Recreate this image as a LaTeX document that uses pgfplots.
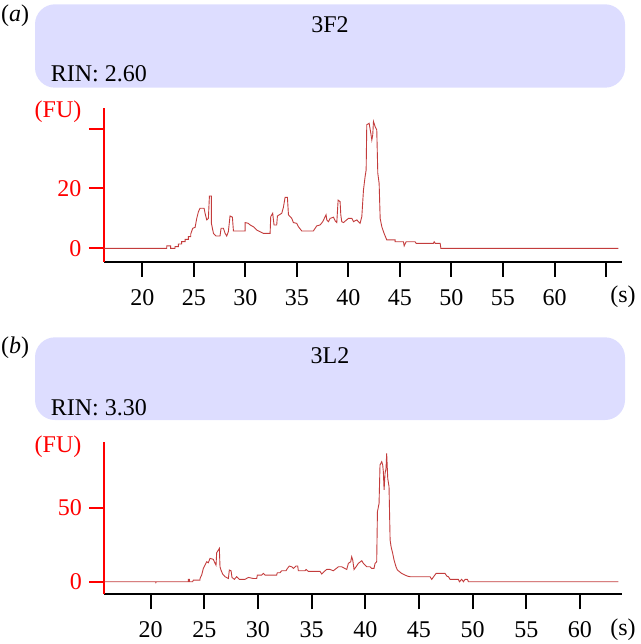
\documentclass[border=0pt]{standalone}
\usepackage{pgfplots}
\pgfplotsset{compat=1.18}
\usepackage{fontspec}
\setmainfont{Liberation Serif}
\definecolor{boxfill}{RGB}{221,221,255}
\definecolor{trace}{RGB}{195,60,60}
\newcommand{\bigf}{\fontsize{24bp}{28bp}\selectfont}
\pgfplotsset{
  elecstyle/.style={
    scale only axis,
    axis x line=bottom, axis y line=left,
    separate axis lines,
    x axis line style={-, black, line width=2bp},
    y axis line style={-, red, line width=2bp},
    tick align=outside,
    major tick length=15bp,
    xtick style={black, line width=2bp},
    ytick style={red, line width=2bp},
    /pgf/number format/assume math mode=true,
    tick label style={font=\bigf},
    xticklabel style={anchor=north, text height=16bp, text depth=0bp, yshift=-9bp},
    yticklabel style={red, xshift=-4bp},
    minor tick num=0,
  }
}
\begin{document}
\begin{tikzpicture}[x=1bp,y=1bp]
\useasboundingbox (0,0) rectangle (641,-644);
% ---- panel (a)
\fill[boxfill, rounded corners=20bp] (35,-4.3) rectangle (625,-87.7);
\node[anchor=center, font=\bigf] at (15,-16) {(\textit{a})};
\node[anchor=center, font=\fontsize{24bp}{28bp}\selectfont] at (330,-25) {3F2};
\node[anchor=base west, font=\bigf, inner sep=0pt] at (50.7,-81.7) {RIN: 2.60};
\begin{axis}[elecstyle,
  at={(104bp,-261.7bp)}, anchor=south west,
  width=518bp, height=153.7bp,
  xmin=16.28, xmax=66.55, ymin=-4.48, ymax=46.9,
  xtick={20,25,30,35,40,45,50,55,60,65},
  xticklabels={20,25,30,35,40,45,50,55,60,{}},
  ytick={0,20,40}, yticklabels={0,20,{}},
]
\addplot[trace, line width=0.9bp] coordinates {
(16.3,0) (22.37,0) (22.37,0.8) (22.75,0.8) (22.75,0) (23.17,0) (23.17,0.55) (23.5,0.55)
(23.5,1.44) (23.82,1.44) (23.82,2.22) (24.15,2.22) (24.15,3.0) (24.47,3.0) (24.47,3.9) (24.7,3.9)
(24.7,4.8) (24.89,6.7) (25.12,7.0) (25.28,10.0) (25.44,12.2) (25.6,13.4) (25.99,13.4) (26.09,11.7)
(26.25,9.5) (26.41,10.0) (26.51,17.5) (26.7,17.5) (26.7,8.4) (26.9,5.0) (27.15,4.1) (27.54,4.1)
(27.64,6.7) (27.87,6.7) (28.03,5.0) (28.19,4.1) (28.35,5.6) (28.51,10.8) (28.74,10.4) (28.84,5.8)
(29.97,5.8) (29.97,8.6) (30.29,8.35) (30.46,7.8) (30.78,7.2) (31.1,6.1) (31.75,5.0) (32.4,5.0)
(32.46,10.6) (32.65,11.7) (32.78,7.8) (33.04,7.8) (33.11,10.8) (33.53,11.7) (33.69,13.7) (33.85,17.0)
(34.08,17.0) (34.18,11.2) (34.5,10.0) (34.66,8.6) (34.98,8.35) (35.15,7.2) (35.47,5.8) (36.6,5.8)
(36.77,6.7) (36.93,7.5) (37.25,7.8) (37.51,8.9) (37.74,10.6) (37.83,11.2) (37.9,9.5) (38.06,8.9)
(38.22,10.0) (38.55,10.4) (38.71,9.2) (38.87,8.6) (39.0,16.1) (39.19,15.6) (39.26,11.2) (39.35,8.9)
(39.52,8.6) (40.0,10.0) (40.33,10.0) (40.49,8.9) (40.81,9.5) (41.13,8.35) (41.3,10.6) (41.46,19.5)
(41.62,24.0) (41.72,26.2) (41.78,41.3) (42.01,41.8) (42.17,38.5) (42.27,36.2) (42.36,37.9) (42.43,42.4)
(42.59,40.7) (42.75,39.6) (42.85,25.1) (42.98,21.7) (43.08,10.0) (43.24,7.2) (43.46,5.0) (43.72,2.8)
(44.53,2.8) (44.53,2.2) (45.34,2.2) (45.41,0.8) (45.6,2.2) (46.47,2.2) (46.57,1.67) (48.25,1.67)
(48.32,2.2) (48.42,1.67) (48.9,1.67) (48.97,0) (66.2,0)
};
\end{axis}
\node[font=\bigf, anchor=center] at (623,-297) {(s)};
\node[font=\bigf, anchor=center, red] at (58,-111.7) {(FU)};
% ---- panel (b)
\fill[boxfill, rounded corners=20bp] (35,-337.3) rectangle (625,-420);
\node[anchor=center, font=\bigf] at (15,-348) {(\textit{b})};
\node[anchor=center, font=\fontsize{24bp}{28bp}\selectfont] at (330,-356) {3L2};
\node[anchor=base west, font=\bigf, inner sep=0pt] at (50.7,-415.7) {RIN: 3.30};
\begin{axis}[elecstyle,
  at={(104.3bp,-594.3bp)}, anchor=south west,
  width=517.4bp, height=152.6bp,
  xmin=15.68, xmax=63.89, ymin=-8.5, ymax=94.6,
  xtick={20,25,30,35,40,45,50,55,60},
  ytick={0,50},
]
\addplot[trace, line width=0.9bp] coordinates {
(15.68,0) (20.47,0) (20.47,-1.1) (20.5,0) (23.51,0) (23.51,1.6) (23.6,1.6) (23.6,0)
(23.91,0) (23.98,1.1) (24.6,1.1) (24.6,2.2) (24.75,4.5) (24.91,9.0) (25.06,11.2) (25.22,13.5)
(25.37,12.8) (25.53,15.8) (25.84,15.1) (26.0,12.4) (26.09,11.2) (26.15,19.6) (26.31,21.4) (26.4,22.5)
(26.46,10.1) (26.55,7.9) (26.71,5.2) (26.93,3.4) (27.24,2.2) (27.33,7.9) (27.49,7.4) (27.58,2.9)
(27.8,1.6) (28.01,3.4) (28.26,1.6) (28.79,1.6) (29.1,2.9) (29.57,2.2) (29.88,2.2) (29.94,4.5)
(30.34,4.5) (30.5,5.6) (30.66,4.5) (31.74,4.5) (31.8,6.1) (32.05,6.1) (32.21,7.4) (32.61,7.4)
(32.74,9.0) (32.92,10.6) (33.14,10.1) (33.3,9.0) (33.54,10.6) (33.7,10.6) (33.76,7.4) (34.38,7.4)
(34.48,8.3) (34.69,7.0) (35.78,7.0) (35.94,5.2) (36.15,6.8) (36.4,8.3) (36.71,8.3) (37.02,7.4)
(37.49,10.1) (37.8,10.1) (38.27,8.3) (38.42,12.4) (38.64,13.5) (38.73,16.9) (38.83,14.6) (38.95,8.3)
(39.14,10.1) (39.35,12.4) (39.67,14.2) (39.82,12.4) (40.13,10.1) (40.44,10.1) (40.6,9.0) (40.81,9.0)
(40.91,12.4) (41.06,13.5) (41.13,47.3) (41.28,52.9) (41.37,78.9) (41.53,81.1) (41.62,78.9) (41.68,74.4)
(41.75,62.0) (41.84,73.2) (41.93,76.6) (41.99,86.7) (42.09,69.8) (42.21,64.2) (42.31,28.2) (42.4,23.7)
(42.55,19.2) (42.68,14.6) (42.86,10.1) (42.99,7.9) (43.18,6.8) (43.39,5.6) (43.7,4.5) (43.92,3.8)
(44.17,3.4) (46.03,3.4) (46.19,1.6) (46.41,3.8) (46.59,5.6) (47.43,5.6) (47.59,3.8) (47.74,3.4)
(47.9,1.6) (48.67,1.6) (48.77,0) (48.98,1.6) (49.14,0) (49.3,1.6) (49.51,1.6) (49.61,0) (63.59,0)
};
\end{axis}
\node[font=\bigf, anchor=center] at (623,-630) {(s)};
\node[font=\bigf, anchor=center, red] at (58,-446.7) {(FU)};
\end{tikzpicture}
\end{document}
